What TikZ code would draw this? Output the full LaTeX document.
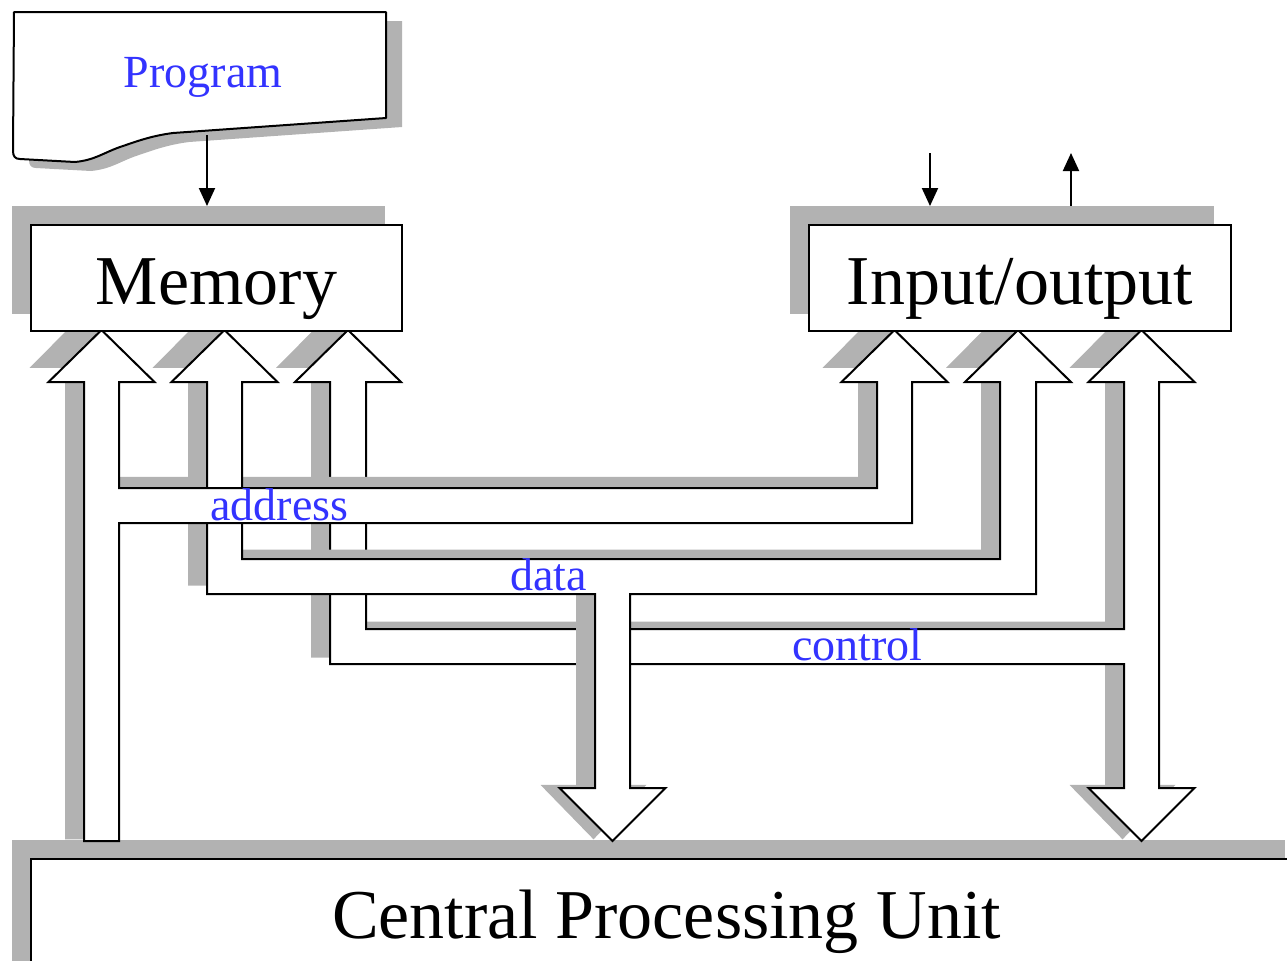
\documentclass[tikz,border=0pt]{standalone}
\usepackage{fontspec}
\setmainfont{Liberation Serif}
\usetikzlibrary{arrows.meta}
\definecolor{shadowgray}{RGB}{178,178,178}
\definecolor{labelblue}{RGB}{51,51,255}
\pgfdeclarelayer{shadowlayer}
\pgfdeclarelayer{buslayer}
\pgfsetlayers{shadowlayer,buslayer,main}
% bus outlines (pixel coordinates, y downwards)
\newcommand\addrbuspath{(101.5,330) -- (154.5,382) -- (119,382) -- (119,488) -- (877,488) -- (877,382) -- (841.5,382) -- (894.5,330) -- (947.5,382) -- (912,382) -- (912,523) -- (119,523) -- (119,841) -- (84,841) -- (84,382) -- (48.5,382) -- cycle}
\newcommand\databuspath{(224.5,330) -- (277.5,382) -- (242,382) -- (242,559) -- (1000,559) -- (1000,382) -- (965,382) -- (1018,330) -- (1071,382) -- (1036,382) -- (1036,594) -- (630,594) -- (630,788) -- (665.5,788) -- (612.5,841) -- (559.5,788) -- (595,788) -- (595,594) -- (207,594) -- (207,382) -- (171.5,382) -- cycle}
\newcommand\ctrlbuspath{(348,330) -- (401,382) -- (366,382) -- (366,629) -- (1124,629) -- (1124,382) -- (1088.5,382) -- (1141.5,330) -- (1194.5,382) -- (1159,382) -- (1159,788) -- (1194.5,788) -- (1141.5,841) -- (1088.5,788) -- (1124,788) -- (1124,664) -- (330,664) -- (330,382) -- (295,382) -- cycle}
\newcommand\progpath{(14,12) -- (386,12) -- (386,118) -- (173,133) .. controls (150,136) and (135,142) .. (120,147) .. controls (103,153) and (95,160) .. (75,162) -- (20,159) .. controls (15,159) and (13,156) .. (13,151) -- cycle}
\begin{document}
\begin{tikzpicture}[x=0.5pt, y=-0.5pt,
  box/.style={draw=black, fill=white, line width=1pt, inner sep=0pt, anchor=north west,
    font=\fontsize{35}{42}\selectfont, text height=39.5pt},
  busbody/.style={draw=black, fill=white, line width=1pt, line join=miter},
  busshade/.style={fill=shadowgray, draw=none, xshift=-9.5pt, yshift=12.2pt, yscale=1.027},
  boxshade/.style={fill=shadowgray, draw=none},
  buslabel/.style={text=labelblue, inner sep=0pt, anchor=base west, font=\fontsize{23}{28}\selectfont},
  smallarrow/.style={line width=1pt, -{Triangle[length=9pt,width=8pt]}}]
\useasboundingbox (0,0) rectangle (1287,960);

% boxes
\node[box, minimum width=185.5pt, text depth=13.5pt] (mem) at (30,224) {Memory};
\node[box, minimum width=211pt, text depth=13.5pt] (io) at (808,224) {Input/output};
\node[box, minimum width=635.5pt, text depth=40pt] (cpu) at (30,858) {Central Processing Unit};

% program sheet
\filldraw[draw=black, fill=white, line width=1pt, line join=round] \progpath;
\node[text=labelblue, inner sep=0pt, anchor=base, font=\fontsize{23}{28}\selectfont] (prog) at (203,87) {Program};

% box shadows
\begin{pgfonlayer}{shadowlayer}
  \fill[boxshade] ([shift={(-18,-18)}]mem.north west) rectangle ([shift={(-18,-18)}]mem.south east);
  \fill[boxshade] ([shift={(-18,-18)}]io.north west) rectangle ([shift={(-18,-18)}]io.south east);
  \fill[boxshade] ([shift={(-18,-18)}]cpu.north west) rectangle ([shift={(-18,-18)}]cpu.south east);
  \fill[boxshade, shift={(16,9)}] \progpath;
\end{pgfonlayer}

% buses
\begin{pgfonlayer}{buslayer}
  \fill[busshade] \ctrlbuspath;
  \filldraw[busbody] \ctrlbuspath;
  \fill[busshade] \databuspath;
  \fill[busshade] \addrbuspath;
  \filldraw[busbody] \databuspath;
  \filldraw[busbody] \addrbuspath;
\end{pgfonlayer}

% bus labels
\node[buslabel] (addrlbl) at (210,520) {address};
\node[buslabel] (datalbl) at (510,590) {data};
\node[buslabel] (ctrllbl) at (792,660) {control};

% small arrows
\coordinate (progout) at (207,135);
\coordinate (memin) at (207,206);
\draw[smallarrow] (progout) -- (memin);
\coordinate (extin) at (930,153);
\coordinate (ioin) at (930,206);
\draw[smallarrow] (extin) -- (ioin);
\coordinate (ioout) at (1071,206);
\coordinate (extout) at (1071,153);
\draw[smallarrow] (ioout) -- (extout);
\end{tikzpicture}
\end{document}
